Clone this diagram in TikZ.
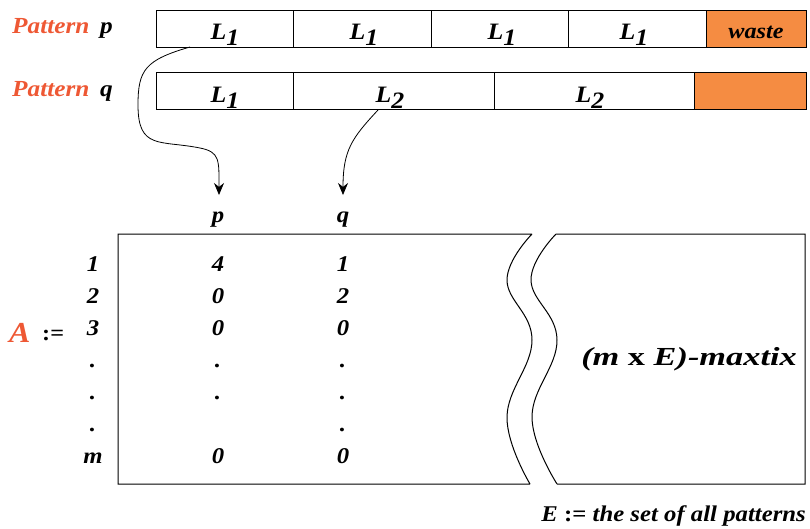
\documentclass[tikz,border=0pt]{standalone}
\usepackage{fontspec}
\setmainfont{Liberation Serif}[FakeStretch=1.1]
\usetikzlibrary{arrows.meta}
\definecolor{txtor}{RGB}{238,88,52}
\definecolor{fillor}{RGB}{245,140,66}
\newcommand{\Lsub}[1]{L\raisebox{-6pt}{#1}}
\begin{document}
\begin{tikzpicture}[x=1pt,y=-1pt,
  cellbox/.style={draw, line width=1pt, inner sep=0pt, minimum height=37pt, anchor=north west},
  wastebox/.style={cellbox, fill=fillor},
  bi/.style={font=\fontsize{#1}{#1}\selectfont\bfseries\itshape, inner sep=0pt, anchor=base},
  bi/.default=22.5,
  patlab/.style={bi=23, anchor=base west, text=txtor},
  conn/.style={line width=0.8pt, -{Stealth[length=12pt,width=10pt]}},
  outline/.style={line width=1pt}]
\useasboundingbox (0,0) rectangle (810,528);

% Pattern p row
\node[patlab] (lp) at (12,33) {Pattern};
\node[bi=23, anchor=base west] (lpp) at (100,33) {p};
\node[cellbox, minimum width=137pt] (p1) at (156,10) {};
\node[cellbox, minimum width=138pt] (p2) at (293,10) {};
\node[cellbox, minimum width=137pt] (p3) at (431,10) {};
\node[cellbox, minimum width=138pt] (p4) at (568,10) {};
\node[wastebox, minimum width=100pt] (p5) at (706,10) {};
\node[bi=23.5] (tp1) at (225,39) {\Lsub{1}};
\node[bi=23.5] (tp2) at (364,39) {\Lsub{1}};
\node[bi=23.5] (tp3) at (502,39) {\Lsub{1}};
\node[bi=23.5] (tp4) at (634,39) {\Lsub{1}};
\node[bi=22] (tp5) at (756,38) {waste};

% Pattern q row
\node[patlab] (lq) at (12,96) {Pattern};
\node[bi=23, anchor=base west] (lqq) at (100,96) {q};
\node[cellbox, minimum width=137pt] (q1) at (156,72) {};
\node[cellbox, minimum width=201pt] (q2) at (293,72) {};
\node[cellbox, minimum width=200pt] (q3) at (494,72) {};
\node[wastebox, minimum width=112pt] (q4) at (694,72) {};
\node[bi=23.5] (tq1) at (225,102) {\Lsub{1}};
\node[bi=23.5] (tq2) at (390,102) {\Lsub{2}};
\node[bi=23.5] (tq3) at (590,102) {\Lsub{2}};

% connectors
\coordinate (sp) at (190,47);
\coordinate (sq) at (378,110);
\node[bi] (hp) at (218,222) {p};
\node[bi] (hq) at (343,222) {q};
\coordinate (ep) at (219,195);
\coordinate (eq) at (343,195);
\draw[conn] (sp) .. controls (145,60) and (138,70) .. (138,105)
  .. controls (138,150) and (160,140) .. (200,148)
  .. controls (220,152) and (219,160) .. (ep);
\draw[conn] (sq) .. controls (352,138) and (343,150) .. (eq);

% matrix outline
\draw[outline] (532,234) -- (118,234) -- (118,484) -- (530,484)
  plot[smooth, tension=0.7] coordinates {(530,484) (507,417) (532,340) (507,280) (532,234)};
\draw[outline] (556,234) -- (805,234) -- (805,484) -- (557,484)
  plot[smooth, tension=0.7] coordinates {(557,484) (532,417) (557,340) (531,280) (556,234)};

% A :=
\node[font=\fontsize{29}{29}\selectfont\bfseries\itshape, inner sep=0pt, anchor=base west, text=txtor] (A) at (9,342) {A};
\node[font=\fontsize{22}{22}\selectfont\bfseries, inner sep=0pt, anchor=base west] (def) at (42,340) {:=};

% row labels
\foreach \t/\y/\n in {1/271/1, 2/303/2, 3/335/3, ./367/4, ./399/5, ./431/6, m/463/7}
  \node[bi] (r\n) at (93,\y) {\t};
% column p
\foreach \t/\y/\n in {4/271/1, 0/303/2, 0/335/3, ./367/4, ./399/5, 0/463/7}
  \node[bi] (cp\n) at (218,\y) {\t};
% column q
\foreach \t/\y/\n in {1/271/1, 2/303/2, 0/335/3, ./367/4, ./399/5, ./431/6, 0/463/7}
  \node[bi] (cq\n) at (343,\y) {\t};

\node[bi=26] (mx) at (689,365) {\scalebox{1.2}[1]{(m {\upshape x} E)-maxtix}};
\node[bi=22.5, anchor=base east] (edef) at (806,521) {E {\upshape :=} the set of all patterns};
\end{tikzpicture}
\end{document}
